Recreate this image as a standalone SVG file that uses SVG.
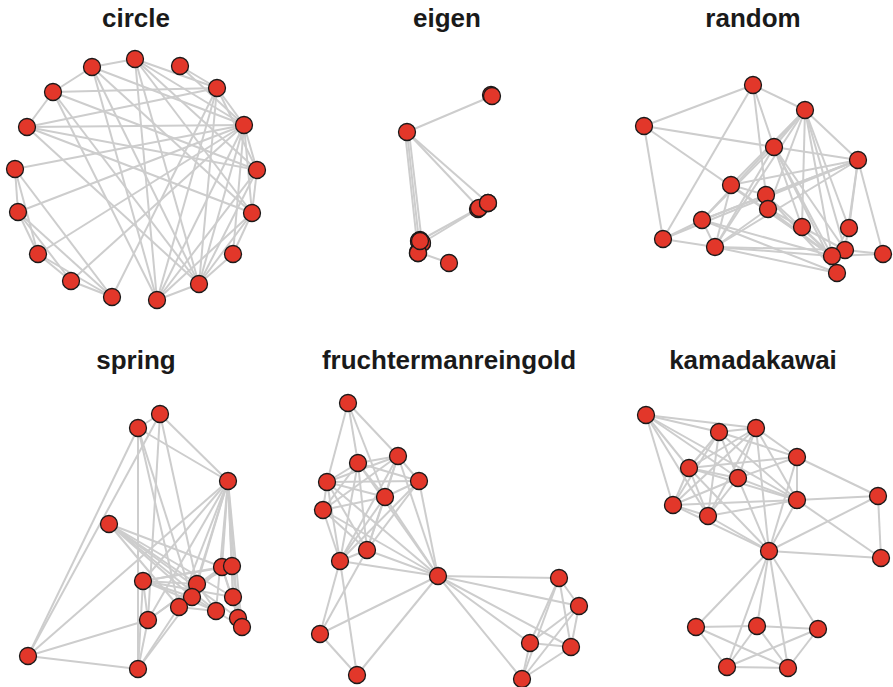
<svg xmlns="http://www.w3.org/2000/svg" width="893" height="687" viewBox="0 0 893 687">
<style>
.t{font-family:"Liberation Sans",Arial,sans-serif;font-weight:bold;font-size:26px;fill:#1a1a1a;text-anchor:middle}
.e path{stroke:#cdcdcd;stroke-width:2;fill:none}
.n circle{fill:#e2372a;stroke:#1a1a1a;stroke-width:1.3}
</style>
<rect width="893" height="687" fill="#ffffff"/>
<text class="t" x="136" y="27">circle</text>
<text class="t" x="447" y="27">eigen</text>
<text class="t" x="753" y="27">random</text>
<text class="t" x="136" y="369">spring</text>
<text class="t" x="449" y="369">fruchtermanreingold</text>
<text class="t" x="753" y="369">kamadakawai</text>
<g id="connectors" class="e">
<path d="M92 67L135 59"/><path d="M135 59L217 88"/><path d="M135 59L244 125"/><path d="M135 59L257 170"/><path d="M135 59L199 284"/><path d="M135 59L157 300"/><path d="M135 59L252 213"/><path d="M180 66L244 125"/><path d="M180 66L217 88"/><path d="M217 88L53 92"/><path d="M217 88L27 127"/><path d="M217 88L112 297"/><path d="M217 88L244 125"/><path d="M217 88L257 170"/><path d="M217 88L157 300"/><path d="M217 88L199 284"/><path d="M244 125L27 127"/><path d="M244 125L15 169"/><path d="M244 125L18 212"/><path d="M244 125L257 170"/><path d="M244 125L252 213"/><path d="M244 125L233 254"/><path d="M244 125L199 284"/><path d="M244 125L157 300"/><path d="M244 125L92 67"/><path d="M257 170L27 127"/><path d="M257 170L53 92"/><path d="M257 170L252 213"/><path d="M257 170L199 284"/><path d="M257 170L157 300"/><path d="M252 213L92 67"/><path d="M252 213L233 254"/><path d="M252 213L157 300"/><path d="M252 213L199 284"/><path d="M252 213L27 127"/><path d="M233 254L199 284"/><path d="M199 284L27 127"/><path d="M199 284L53 92"/><path d="M157 300L92 67"/><path d="M157 300L53 92"/><path d="M112 297L15 169"/><path d="M112 297L71 281"/><path d="M112 297L38 254"/><path d="M112 297L18 212"/><path d="M71 281L18 212"/><path d="M71 281L38 254"/><path d="M38 254L18 212"/><path d="M38 254L15 169"/><path d="M18 212L15 169"/><path d="M27 127L53 92"/><path d="M53 92L92 67"/><path d="M92 67L199 284"/><path d="M38 254L244 125"/><path d="M199 284L157 300"/><path d="M71 281L244 125"/>
<path d="M492 96L407 132"/><path d="M407 132L479 208"/><path d="M407 132L488 203"/><path d="M407 132L419 241"/><path d="M409 132L422 243"/><path d="M405 132L418 252"/><path d="M479 208L419 241"/><path d="M488 203L422 243"/><path d="M418 252L449 263"/>
<path d="M753 85L644 126"/><path d="M753 85L663 239"/><path d="M753 85L774 147"/><path d="M753 85L805 110"/><path d="M753 85L766 195"/><path d="M644 126L774 147"/><path d="M644 126L832 256"/><path d="M644 126L663 239"/><path d="M805 110L858 160"/><path d="M805 110L774 147"/><path d="M805 110L731 185"/><path d="M805 110L715 247"/><path d="M805 110L802 227"/><path d="M805 110L849 228"/><path d="M805 110L845 250"/><path d="M805 110L832 256"/><path d="M805 110L768 209"/><path d="M805 110L702 220"/><path d="M858 160L774 147"/><path d="M858 160L731 185"/><path d="M858 160L702 220"/><path d="M858 160L715 247"/><path d="M858 160L849 228"/><path d="M858 160L845 250"/><path d="M858 160L883 254"/><path d="M858 160L766 195"/><path d="M858 160L663 239"/><path d="M774 147L715 247"/><path d="M774 147L802 227"/><path d="M774 147L832 256"/><path d="M774 147L845 250"/><path d="M774 147L837 273"/><path d="M774 147L702 220"/><path d="M731 185L832 256"/><path d="M731 185L766 195"/><path d="M731 185L715 247"/><path d="M702 220L663 239"/><path d="M702 220L715 247"/><path d="M702 220L832 256"/><path d="M702 220L766 195"/><path d="M702 220L837 273"/><path d="M663 239L715 247"/><path d="M715 247L832 256"/><path d="M715 247L837 273"/><path d="M715 247L845 250"/><path d="M715 247L768 209"/><path d="M832 256L883 254"/><path d="M845 250L883 254"/><path d="M849 228L832 256"/><path d="M802 227L832 256"/><path d="M766 195L832 256"/><path d="M768 209L832 256"/><path d="M768 209L845 250"/><path d="M766 195L837 273"/>
<path d="M28 656L138 428"/><path d="M28 656L160 414"/><path d="M28 656L228 481"/><path d="M28 656L148 620"/><path d="M28 656L138 669"/><path d="M138 428L160 414"/><path d="M138 428L138 669"/><path d="M138 428L228 481"/><path d="M138 428L179 607"/><path d="M160 414L228 481"/><path d="M160 414L148 620"/><path d="M160 414L197 584"/><path d="M138 428L192 597"/><path d="M228 481L143 581"/><path d="M228 481L197 584"/><path d="M228 481L192 597"/><path d="M228 481L179 607"/><path d="M228 481L222 567"/><path d="M228 481L232 566"/><path d="M228 481L233 597"/><path d="M228 481L216 611"/><path d="M228 481L238 618"/><path d="M228 481L242 627"/><path d="M228 481L148 620"/><path d="M109 524L197 584"/><path d="M109 524L192 597"/><path d="M109 524L216 611"/><path d="M109 524L233 597"/><path d="M109 524L222 567"/><path d="M109 524L238 618"/><path d="M109 524L179 607"/><path d="M143 581L222 567"/><path d="M143 581L197 584"/><path d="M143 581L192 597"/><path d="M143 581L233 597"/><path d="M143 581L148 620"/><path d="M143 581L138 669"/><path d="M143 581L216 611"/><path d="M143 581L232 566"/><path d="M148 620L138 669"/><path d="M148 620L197 584"/><path d="M148 620L222 567"/><path d="M138 669L179 607"/><path d="M138 669L192 597"/><path d="M179 607L216 611"/><path d="M179 607L222 567"/><path d="M197 584L232 566"/><path d="M192 597L242 627"/><path d="M233 597L238 618"/><path d="M222 567L242 627"/><path d="M232 566L242 627"/><path d="M232 566L233 597"/><path d="M222 567L238 618"/><path d="M197 584L216 611"/>
<path d="M348 403L327 482"/><path d="M348 403L358 463"/><path d="M348 403L385 497"/><path d="M348 403L398 456"/><path d="M398 456L358 463"/><path d="M398 456L327 482"/><path d="M398 456L419 481"/><path d="M398 456L385 497"/><path d="M398 456L323 510"/><path d="M398 456L367 550"/><path d="M398 456L340 561"/><path d="M358 463L327 482"/><path d="M358 463L419 481"/><path d="M358 463L385 497"/><path d="M358 463L323 510"/><path d="M358 463L367 550"/><path d="M358 463L340 561"/><path d="M327 482L419 481"/><path d="M327 482L385 497"/><path d="M327 482L323 510"/><path d="M327 482L367 550"/><path d="M327 482L340 561"/><path d="M419 481L385 497"/><path d="M419 481L367 550"/><path d="M419 481L340 561"/><path d="M385 497L323 510"/><path d="M385 497L367 550"/><path d="M385 497L340 561"/><path d="M323 510L367 550"/><path d="M323 510L340 561"/><path d="M367 550L340 561"/><path d="M438 576L327 482"/><path d="M438 576L323 510"/><path d="M438 576L358 463"/><path d="M438 576L419 481"/><path d="M438 576L385 497"/><path d="M438 576L398 456"/><path d="M438 576L367 550"/><path d="M438 576L340 561"/><path d="M438 576L559 578"/><path d="M438 576L579 606"/><path d="M438 576L530 643"/><path d="M438 576L571 647"/><path d="M438 576L522 679"/><path d="M438 576L320 634"/><path d="M438 576L357 675"/><path d="M340 561L320 634"/><path d="M340 561L357 675"/><path d="M367 550L320 634"/><path d="M320 634L357 675"/><path d="M559 578L530 643"/><path d="M559 578L571 647"/><path d="M559 578L579 606"/><path d="M579 606L571 647"/><path d="M579 606L530 643"/><path d="M579 606L522 679"/><path d="M530 643L571 647"/><path d="M530 643L522 679"/><path d="M571 647L522 679"/><path d="M559 578L522 679"/>
<path d="M646 415L756 428"/><path d="M646 415L719 432"/><path d="M646 415L689 468"/><path d="M646 415L673 505"/><path d="M646 415L738 478"/><path d="M646 415L708 516"/><path d="M646 415L797 500"/><path d="M719 432L756 428"/><path d="M719 432L797 457"/><path d="M719 432L689 468"/><path d="M719 432L738 478"/><path d="M719 432L673 505"/><path d="M719 432L708 516"/><path d="M719 432L797 500"/><path d="M756 428L797 457"/><path d="M756 428L689 468"/><path d="M756 428L738 478"/><path d="M756 428L673 505"/><path d="M756 428L708 516"/><path d="M756 428L797 500"/><path d="M797 457L689 468"/><path d="M797 457L738 478"/><path d="M797 457L797 500"/><path d="M689 468L738 478"/><path d="M689 468L673 505"/><path d="M689 468L708 516"/><path d="M689 468L797 500"/><path d="M738 478L673 505"/><path d="M738 478L708 516"/><path d="M738 478L797 500"/><path d="M673 505L708 516"/><path d="M673 505L797 500"/><path d="M708 516L797 500"/><path d="M797 457L878 496"/><path d="M797 500L878 496"/><path d="M797 500L881 558"/><path d="M878 496L769 551"/><path d="M878 496L881 558"/><path d="M769 551L881 558"/><path d="M769 551L696 627"/><path d="M769 551L757 626"/><path d="M769 551L818 629"/><path d="M769 551L727 667"/><path d="M769 551L788 668"/><path d="M769 551L738 478"/><path d="M769 551L673 505"/><path d="M769 551L708 516"/><path d="M769 551L797 500"/><path d="M769 551L797 457"/><path d="M769 551L756 428"/><path d="M769 551L689 468"/><path d="M696 627L757 626"/><path d="M757 626L818 629"/><path d="M696 627L727 667"/><path d="M696 627L788 668"/><path d="M757 626L727 667"/><path d="M757 626L788 668"/><path d="M818 629L727 667"/><path d="M818 629L788 668"/><path d="M727 667L788 668"/>
</g>
<g class="n">
<g id="circle-n0"><circle cx="135" cy="59" r="8.5"/></g><g id="circle-n1"><circle cx="180" cy="66" r="8.5"/></g><g id="circle-n2"><circle cx="217" cy="88" r="8.5"/></g><g id="circle-n3"><circle cx="244" cy="125" r="8.5"/></g><g id="circle-n4"><circle cx="257" cy="170" r="8.5"/></g><g id="circle-n5"><circle cx="252" cy="213" r="8.5"/></g><g id="circle-n6"><circle cx="233" cy="254" r="8.5"/></g><g id="circle-n7"><circle cx="199" cy="284" r="8.5"/></g><g id="circle-n8"><circle cx="157" cy="300" r="8.5"/></g><g id="circle-n9"><circle cx="112" cy="297" r="8.5"/></g><g id="circle-n10"><circle cx="71" cy="281" r="8.5"/></g><g id="circle-n11"><circle cx="38" cy="254" r="8.5"/></g><g id="circle-n12"><circle cx="18" cy="212" r="8.5"/></g><g id="circle-n13"><circle cx="15" cy="169" r="8.5"/></g><g id="circle-n14"><circle cx="27" cy="127" r="8.5"/></g><g id="circle-n15"><circle cx="53" cy="92" r="8.5"/></g><g id="circle-n16"><circle cx="92" cy="67" r="8.5"/></g>
<g id="eigen-n0"><circle cx="491" cy="95" r="8.5"/></g><g id="eigen-n1"><circle cx="492" cy="96" r="8.5"/></g><g id="eigen-n2"><circle cx="407" cy="132" r="8.5"/></g><g id="eigen-n3"><circle cx="478" cy="209" r="8.5"/></g><g id="eigen-n4"><circle cx="479" cy="208" r="8.5"/></g><g id="eigen-n5"><circle cx="488" cy="203" r="8.5"/></g><g id="eigen-n6"><circle cx="488" cy="203" r="8.5"/></g><g id="eigen-n7"><circle cx="420" cy="240" r="8.5"/></g><g id="eigen-n8"><circle cx="419" cy="241" r="8.5"/></g><g id="eigen-n9"><circle cx="419" cy="241" r="8.5"/></g><g id="eigen-n10"><circle cx="422" cy="243" r="8.5"/></g><g id="eigen-n11"><circle cx="422" cy="243" r="8.5"/></g><g id="eigen-n12"><circle cx="418" cy="252" r="8.5"/></g><g id="eigen-n13"><circle cx="418" cy="253" r="8.5"/></g><g id="eigen-n14"><circle cx="418" cy="253" r="8.5"/></g><g id="eigen-n15"><circle cx="449" cy="263" r="8.5"/></g><g id="eigen-n16"><circle cx="420" cy="241" r="8.5"/></g>
<g id="random-n0"><circle cx="753" cy="85" r="8.5"/></g><g id="random-n1"><circle cx="644" cy="126" r="8.5"/></g><g id="random-n2"><circle cx="805" cy="110" r="8.5"/></g><g id="random-n3"><circle cx="774" cy="147" r="8.5"/></g><g id="random-n4"><circle cx="858" cy="160" r="8.5"/></g><g id="random-n5"><circle cx="731" cy="185" r="8.5"/></g><g id="random-n6"><circle cx="766" cy="195" r="8.5"/></g><g id="random-n7"><circle cx="768" cy="209" r="8.5"/></g><g id="random-n8"><circle cx="702" cy="220" r="8.5"/></g><g id="random-n9"><circle cx="663" cy="239" r="8.5"/></g><g id="random-n10"><circle cx="715" cy="247" r="8.5"/></g><g id="random-n11"><circle cx="802" cy="227" r="8.5"/></g><g id="random-n12"><circle cx="849" cy="228" r="8.5"/></g><g id="random-n13"><circle cx="845" cy="250" r="8.5"/></g><g id="random-n14"><circle cx="832" cy="256" r="8.5"/></g><g id="random-n15"><circle cx="883" cy="254" r="8.5"/></g><g id="random-n16"><circle cx="837" cy="273" r="8.5"/></g>
<g id="spring-n0"><circle cx="160" cy="414" r="8.5"/></g><g id="spring-n1"><circle cx="138" cy="428" r="8.5"/></g><g id="spring-n2"><circle cx="228" cy="481" r="8.5"/></g><g id="spring-n3"><circle cx="109" cy="524" r="8.5"/></g><g id="spring-n4"><circle cx="222" cy="567" r="8.5"/></g><g id="spring-n5"><circle cx="232" cy="566" r="8.5"/></g><g id="spring-n6"><circle cx="143" cy="581" r="8.5"/></g><g id="spring-n7"><circle cx="197" cy="584" r="8.5"/></g><g id="spring-n8"><circle cx="192" cy="597" r="8.5"/></g><g id="spring-n9"><circle cx="179" cy="607" r="8.5"/></g><g id="spring-n10"><circle cx="233" cy="597" r="8.5"/></g><g id="spring-n11"><circle cx="216" cy="611" r="8.5"/></g><g id="spring-n12"><circle cx="148" cy="620" r="8.5"/></g><g id="spring-n13"><circle cx="238" cy="618" r="8.5"/></g><g id="spring-n14"><circle cx="242" cy="627" r="8.5"/></g><g id="spring-n15"><circle cx="28" cy="656" r="8.5"/></g><g id="spring-n16"><circle cx="138" cy="669" r="8.5"/></g>
<g id="fr-n0"><circle cx="348" cy="403" r="8.5"/></g><g id="fr-n1"><circle cx="398" cy="456" r="8.5"/></g><g id="fr-n2"><circle cx="358" cy="463" r="8.5"/></g><g id="fr-n3"><circle cx="327" cy="482" r="8.5"/></g><g id="fr-n4"><circle cx="419" cy="481" r="8.5"/></g><g id="fr-n5"><circle cx="385" cy="497" r="8.5"/></g><g id="fr-n6"><circle cx="323" cy="510" r="8.5"/></g><g id="fr-n7"><circle cx="367" cy="550" r="8.5"/></g><g id="fr-n8"><circle cx="340" cy="561" r="8.5"/></g><g id="fr-n9"><circle cx="438" cy="576" r="8.5"/></g><g id="fr-n10"><circle cx="559" cy="578" r="8.5"/></g><g id="fr-n11"><circle cx="579" cy="606" r="8.5"/></g><g id="fr-n12"><circle cx="320" cy="634" r="8.5"/></g><g id="fr-n13"><circle cx="530" cy="643" r="8.5"/></g><g id="fr-n14"><circle cx="571" cy="647" r="8.5"/></g><g id="fr-n15"><circle cx="357" cy="675" r="8.5"/></g><g id="fr-n16"><circle cx="522" cy="679" r="8.5"/></g>
<g id="kk-n0"><circle cx="646" cy="415" r="8.5"/></g><g id="kk-n1"><circle cx="719" cy="432" r="8.5"/></g><g id="kk-n2"><circle cx="756" cy="428" r="8.5"/></g><g id="kk-n3"><circle cx="797" cy="457" r="8.5"/></g><g id="kk-n4"><circle cx="689" cy="468" r="8.5"/></g><g id="kk-n5"><circle cx="738" cy="478" r="8.5"/></g><g id="kk-n6"><circle cx="673" cy="505" r="8.5"/></g><g id="kk-n7"><circle cx="708" cy="516" r="8.5"/></g><g id="kk-n8"><circle cx="797" cy="500" r="8.5"/></g><g id="kk-n9"><circle cx="878" cy="496" r="8.5"/></g><g id="kk-n10"><circle cx="769" cy="551" r="8.5"/></g><g id="kk-n11"><circle cx="881" cy="558" r="8.5"/></g><g id="kk-n12"><circle cx="696" cy="627" r="8.5"/></g><g id="kk-n13"><circle cx="757" cy="626" r="8.5"/></g><g id="kk-n14"><circle cx="818" cy="629" r="8.5"/></g><g id="kk-n15"><circle cx="727" cy="667" r="8.5"/></g><g id="kk-n16"><circle cx="788" cy="668" r="8.5"/></g>
</g>
</svg>
